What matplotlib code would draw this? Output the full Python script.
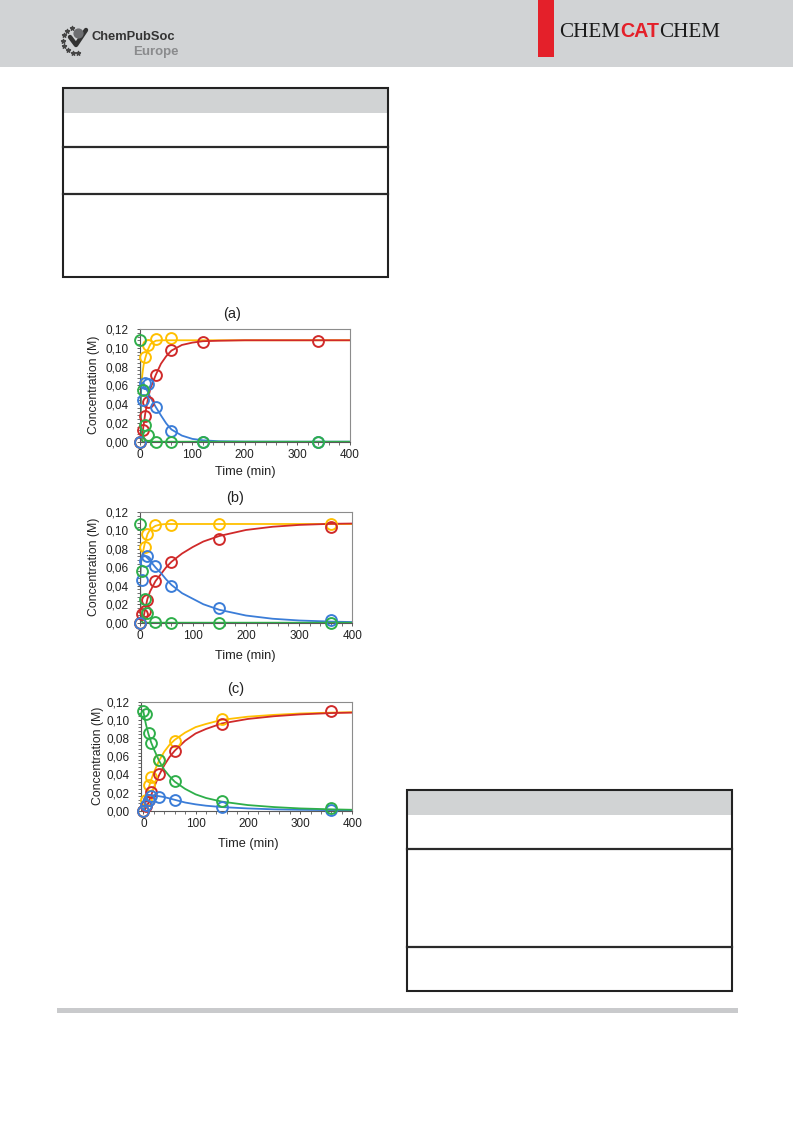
import numpy as np
import matplotlib
matplotlib.use("Agg")
import matplotlib.pyplot as plt
from matplotlib.patches import Rectangle
from matplotlib.ticker import MultipleLocator, FuncFormatter

plt.rcParams['font.family'] = ['Liberation Sans', 'DejaVu Sans']

# ---------------- data ----------------
panel_titles = ["(a)", "(b)", "(c)"]
x_label = "Time (min)"
y_label = "Concentration (M)"
y_ticks = [0.00, 0.02, 0.04, 0.06, 0.08, 0.10, 0.12]
x_ticks = [0, 100, 200, 300, 400]

# measured points
t_a = [0, 5, 10, 15, 30, 60, 120, 340]
green_a = [0.108, 0.055, 0.018, 0.007, 0.0, 0.0, 0.0, 0.0]
blue_a = [0.0, 0.044, 0.063, 0.061, 0.037, 0.011, 0.0, 0.0]
red_a = [0.0, 0.012, 0.027, 0.042, 0.071, 0.098, 0.1065, 0.1075]
yellow_a = [0.0, np.nan, 0.090, 0.103, 0.109, 0.110, np.nan, np.nan]

t_b = [0, 5, 10, 15, 30, 60, 150, 360]
green_b = [0.107, 0.056, 0.026, 0.010, 0.001, 0.0, 0.0, 0.0]
blue_b = [0.0, 0.046, 0.067, 0.072, 0.061, 0.040, 0.016, 0.003]
red_b = [0.0, 0.009, 0.013, 0.025, 0.045, 0.066, 0.091, 0.1035]
yellow_b = [0.0, np.nan, 0.082, 0.096, 0.1055, 0.106, 0.107, 0.107]

t_c = [0, 5, 10, 15, 30, 60, 150, 360]
green_c = [0.110, 0.106, 0.086, 0.075, 0.056, 0.033, 0.0105, 0.0035]
blue_c = [0.0, 0.006, 0.012, 0.016, 0.0155, 0.0115, 0.004, 0.0005]
red_c = [0.0, 0.005, 0.012, 0.021, 0.040, 0.066, 0.096, 0.110]
yellow_c = [0.0, 0.012, 0.028, 0.037, 0.056, 0.077, 0.1005, np.nan]

# fitted curves
ct_a = [0, 0.5, 1, 1.5, 2, 3, 4, 5, 7, 10, 15, 20, 30, 40, 50, 60, 80, 100, 120, 150, 200, 300, 400]
curve_green_a = [0.108, 0.075, 0.045, 0.025, 0.013, 0.004, 0.0015, 0.0005, 0, 0, 0, 0, 0, 0, 0, 0, 0, 0, 0, 0, 0, 0, 0]
curve_yellow_a = [0, 0.030, 0.047, 0.055, 0.059, 0.064, 0.069, 0.074, 0.082, 0.089, 0.098, 0.104, 0.1075, 0.108, 0.108, 0.108,
                  0.108, 0.108, 0.108, 0.108, 0.108, 0.108, 0.108]
curve_blue_a = [0, 0.016, 0.032, 0.045, 0.053, 0.060, 0.0625, 0.063, 0.062, 0.059, 0.053, 0.047, 0.037, 0.028, 0.0195, 0.013,
                0.0065, 0.003, 0.0015, 0.0005, 0.0001, 0, 0]
curve_red_a = [0, 0, 0.0005, 0.001, 0.002, 0.004, 0.007, 0.010, 0.018, 0.030, 0.045, 0.057, 0.071, 0.083, 0.091, 0.097,
               0.103, 0.1055, 0.107, 0.1075, 0.108, 0.108, 0.108]

ct_b = [0, 0.5, 1, 1.5, 2, 3, 4, 5, 7, 10, 15, 20, 30, 40, 50, 60, 80, 100, 120, 150, 200, 250, 300, 360, 400]
curve_green_b = [0.107, 0.075, 0.047, 0.028, 0.016, 0.006, 0.002, 0.001, 0, 0, 0, 0, 0, 0, 0, 0, 0, 0, 0, 0, 0, 0, 0, 0, 0]
curve_yellow_b = [0, 0.025, 0.042, 0.053, 0.059, 0.065, 0.069, 0.072, 0.078, 0.086, 0.096, 0.101, 0.105, 0.1065, 0.107,
                  0.107, 0.107, 0.107, 0.107, 0.107, 0.107, 0.107, 0.107, 0.107, 0.107]
curve_blue_b = [0, 0.018, 0.035, 0.049, 0.058, 0.066, 0.070, 0.072, 0.0735, 0.073, 0.070, 0.067, 0.060, 0.054, 0.047,
                0.041, 0.032, 0.026, 0.020, 0.014, 0.0078, 0.0043, 0.0024, 0.0012, 0.0007]
curve_red_b = [0, 0, 0, 0.0005, 0.001, 0.0015, 0.002, 0.003, 0.0045, 0.013, 0.026, 0.034, 0.045, 0.0525, 0.060, 0.066,
               0.075, 0.082, 0.088, 0.094, 0.1005, 0.104, 0.106, 0.1072, 0.1075]

ct_c = [0, 2, 5, 10, 15, 20, 30, 40, 50, 60, 80, 100, 120, 150, 200, 250, 300, 360, 400]
curve_green_c = [0.110, 0.103, 0.095, 0.084, 0.075, 0.068, 0.055, 0.045, 0.038, 0.032, 0.024, 0.018, 0.014, 0.0100,
                 0.0062, 0.004, 0.0025, 0.0015, 0.001]
curve_yellow_c = [0, 0.004, 0.014, 0.025, 0.034, 0.042, 0.055, 0.065, 0.0725, 0.078, 0.086, 0.092, 0.0955, 0.100,
                  0.1035, 0.1055, 0.107, 0.108, 0.1084]
curve_blue_c = [0, 0.0035, 0.011, 0.016, 0.017, 0.017, 0.016, 0.015, 0.0135, 0.012, 0.009, 0.007, 0.0055, 0.004,
                0.0025, 0.0015, 0.001, 0.0006, 0.0004]
curve_red_c = [0, 0.0005, 0.003, 0.009, 0.017, 0.025, 0.039, 0.050, 0.059, 0.066, 0.077, 0.085, 0.090, 0.096, 0.101,
               0.104, 0.106, 0.1075, 0.108]

# ---------------- styles ----------------
C_YELLOW = '#FFC000'
C_RED = '#D02A2A'
C_BLUE = '#3B7DD8'
C_GREEN = '#2EAF4A'

W, H = 793, 1121
fig = plt.figure(figsize=(W / 100, H / 100), dpi=100)

# page background layer in pixel coordinates
bg = fig.add_axes([0, 0, 1, 1], zorder=0)
bg.set_xlim(0, W)
bg.set_ylim(H, 0)
bg.axis('off')

# header band
bg.add_patch(Rectangle((0, 0), W, 67, facecolor='#d1d3d5', edgecolor='none'))
bg.add_patch(Rectangle((538, 0), 16, 56.5, facecolor='#e4202a', edgecolor='none'))

# journal name, placed piece by piece
renderer = fig.canvas.get_renderer()
pieces = [("CHEM", dict(fontfamily='Liberation Serif', fontsize=15.2, color='#1a1a1a')),
          ("CAT", dict(fontfamily='Liberation Sans', fontweight='bold', fontsize=14.2, color='#e4202a')),
          ("CHEM", dict(fontfamily='Liberation Serif', fontsize=15.2, color='#1a1a1a'))]
xpos = 559.0
for s, kw in pieces:
    tt = bg.text(xpos, 30.0, s, va='baseline', ha='left', **kw)
    bb = tt.get_window_extent(renderer=renderer)
    xpos += bb.width
for tt in bg.texts:
    tt.set_y(37.0)

# ChemPubSoc logo
ang = np.deg2rad(np.linspace(110, 280, 8))
bg.scatter(76 + 13 * np.cos(ang), 40 - 13 * np.sin(ang), marker='*', s=9, color='#444444', zorder=3)
bg.plot([70, 76, 86], [37, 45, 30], color='#333333', lw=3.2, solid_capstyle='round', zorder=3)
bg.scatter([78], [33], s=40, color='#6d6e71', zorder=3)
bg.text(91, 37, "ChemPubSoc", fontfamily='Liberation Sans', fontweight='bold', fontsize=9.3, color='#333333',
        va='center', ha='left')
bg.text(179, 52, "Europe", fontfamily='Liberation Sans', fontweight='bold', fontsize=9.5, color='#8a8b8d',
        va='center', ha='right')


def draw_table(x0, y0, x1, y1, header_bottom, rules):
    bg.add_patch(Rectangle((x0, y0), x1 - x0, header_bottom - y0, facecolor='#d1d3d4', edgecolor='none'))
    bg.add_patch(Rectangle((x0, y0), x1 - x0, y1 - y0, facecolor='none', edgecolor='#222222', lw=1.5))
    for yy in rules:
        bg.plot([x0, x1], [yy, yy], color='#2a2a2a', lw=1.6)


draw_table(62.5, 88, 387.5, 276.5, 112.5, [147.3, 194])
draw_table(406.7, 790, 731.7, 991, 814.5, [849.3, 946.7])

# footer rule
bg.add_patch(Rectangle((57, 1008), 681, 4.5, facecolor='#c9cacc', edgecolor='none'))


def rect(l, t, r, b):
    return [l / W, 1 - b / H, (r - l) / W, (b - t) / H]


panels = [
    dict(box=rect(140, 329, 349.5, 441.7), xlim=(0, 400), title_xy=(232, 314), xl_xy=(245, 472), yl_xy=(93.5, 385),
         t=t_a, pts=(yellow_a, red_a, blue_a, green_a),
         ct=ct_a, curves=(curve_yellow_a, curve_red_a, curve_blue_a, curve_green_a)),
    dict(box=rect(139.5, 512, 352.3, 622.7), xlim=(0, 400), title_xy=(235, 498), xl_xy=(245, 655.5), yl_xy=(93.5, 567),
         t=t_b, pts=(yellow_b, red_b, blue_b, green_b),
         ct=ct_b, curves=(curve_yellow_b, curve_red_b, curve_blue_b, curve_green_b)),
    dict(box=rect(141, 701.7, 352.3, 810.7), xlim=(-4.5, 400), title_xy=(235.5, 688.5), xl_xy=(248, 843.5),
         yl_xy=(98.5, 756),
         t=t_c, pts=(yellow_c, red_c, blue_c, green_c),
         ct=ct_c, curves=(curve_yellow_c, curve_red_c, curve_blue_c, curve_green_c)),
]

colors = (C_YELLOW, C_RED, C_BLUE, C_GREEN)

for i, p in enumerate(panels):
    ax = fig.add_axes(p['box'], zorder=2)
    ax.patch.set_alpha(0)
    for vals, col in zip(p['curves'], colors):
        ax.plot(p['ct'], vals, color=col, lw=1.3, zorder=2)
    for vals, col in zip(p['pts'], colors):
        ax.plot(p['t'], vals, linestyle='none', marker='o', markersize=7.8, mfc='none', mec=col, mew=1.4,
                clip_on=False, zorder=3)
    ax.set_xlim(*p['xlim'])
    ax.set_ylim(0, 0.12)
    ax.set_xticks(x_ticks)
    ax.set_yticks(y_ticks)
    ax.xaxis.set_minor_locator(MultipleLocator(20))
    ax.yaxis.set_minor_locator(MultipleLocator(0.004))
    ax.yaxis.set_major_formatter(FuncFormatter(lambda v, pos: f"{v:.2f}".replace('.', ',')))
    ax.tick_params(axis='both', which='major', direction='out', length=2.5, width=0.7, color='#595959',
                   labelsize=8.5, labelcolor='#222222')
    ax.tick_params(axis='both', which='minor', direction='out', length=2.0, width=0.6, color='#595959')
    ax.tick_params(axis='y', which='major', pad=5.5)
    ax.tick_params(axis='x', which='major', pad=2.5)
    for side in ['left', 'bottom']:
        ax.spines[side].set_color('#595959')
        ax.spines[side].set_linewidth(0.8)
    for side in ['top', 'right']:
        ax.spines[side].set_color('#8c8c8c')
        ax.spines[side].set_linewidth(0.8)
    tx, ty = p['title_xy']
    bg.text(tx, ty, panel_titles[i], fontsize=10.5, color='#222222', ha='center', va='center')
    xx, xy = p['xl_xy']
    bg.text(xx, xy, x_label, fontsize=9.2, color='#222222', ha='center', va='center')
    yx, yy = p['yl_xy']
    bg.text(yx, yy, y_label, fontsize=8.8, color='#222222', ha='center', va='center', rotation=90)

fig.savefig("out.png", dpi=100)
